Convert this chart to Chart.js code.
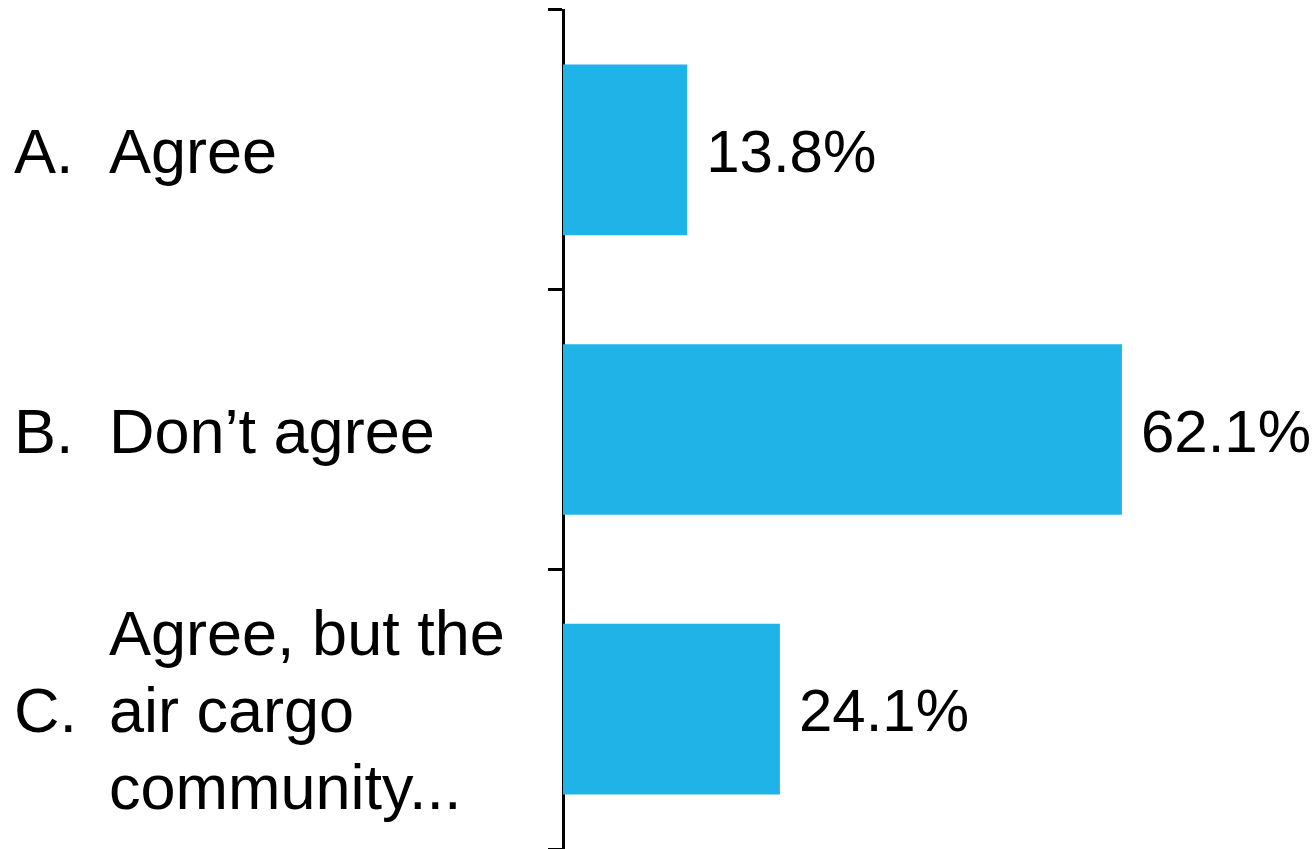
<!DOCTYPE html>
<html>
<head>
<meta charset="utf-8">
<title>Survey results</title>
<script src="https://cdn.jsdelivr.net/npm/chart.js@4.4.1/dist/chart.umd.min.js"></script>
<style>
    html, body { margin: 0; padding: 0; background: #ffffff; }
    #wrap { position: relative; width: 1313px; height: 849px; }
</style>
</head>
<body>
<div id="wrap"><canvas id="surveyChart"></canvas></div>
<script>
// Answer letters, answer texts (one entry per line) and share of responses
const answerLetters = ['A.', 'B.', 'C.'];
const answerTexts = [
    ['Agree'],
    ['Don\u2019t agree'],
    ['Agree, but the', 'air cargo', 'community...']
];
const answerShares = [13.8, 62.1, 24.1];
const axisMax = 80;

const FONT = '"Liberation Sans", Arial, Helvetica, sans-serif';
const BAR_COLOR = '#1FB3E8';

// Draws the answer labels left of the axis and the percentages after each bar
const labelPlugin = {
    id: 'surveyLabels',
    afterDatasetsDraw(chart) {
        const ctx = chart.ctx;
        const yScale = chart.scales.y;
        const meta = chart.getDatasetMeta(0);
        ctx.save();
        ctx.fillStyle = '#000000';
        ctx.textBaseline = 'alphabetic';
        ctx.textAlign = 'left';

        // category labels
        ctx.font = '63px ' + FONT;
        const lineHeight = 77;
        answerLetters.forEach(function(letter, i) {
            const yc = yScale.getPixelForValue(i);
            const base = yc + 23;
            ctx.fillText(letter, 14, base);
            const lines = answerTexts[i];
            const first = base - (lines.length - 1) / 2 * lineHeight;
            lines.forEach(function(line, j) {
                ctx.fillText(line, 109, first + j * lineHeight);
            });
        });

        // value labels
        ctx.font = '60px ' + FONT;
        meta.data.forEach(function(bar, i) {
            ctx.fillText(answerShares[i].toFixed(1) + '%', bar.x + 19, bar.y + 22);
        });
        ctx.restore();
    }
};

document.addEventListener('DOMContentLoaded', function() {
    const canvas = document.getElementById('surveyChart');
    new Chart(canvas, {
        type: 'bar',
        data: {
            labels: answerLetters,
            datasets: [{
                data: answerShares,
                backgroundColor: BAR_COLOR,
                borderWidth: 0,
                categoryPercentage: 1,
                barPercentage: 0.61
            }]
        },
        options: {
            indexAxis: 'y',
            responsive: true,
            maintainAspectRatio: false,
            animation: false,
            layout: {
                padding: { top: 10, right: 30, bottom: 0, left: 0 }
            },
            plugins: {
                legend: { display: false },
                tooltip: { enabled: false }
            },
            scales: {
                x: {
                    display: false,
                    min: 0,
                    max: axisMax
                },
                y: {
                    offset: true,
                    grid: {
                        offset: true,
                        drawOnChartArea: false,
                        drawTicks: true,
                        tickLength: 15,
                        color: '#000000',
                        lineWidth: 3
                    },
                    border: {
                        display: true,
                        color: '#000000',
                        width: 3
                    },
                    ticks: {
                        display: false
                    },
                    afterFit: function(scale) {
                        scale.width = 563;
                    }
                }
            }
        },
        plugins: [labelPlugin]
    });
});
</script>
</body>
</html>
